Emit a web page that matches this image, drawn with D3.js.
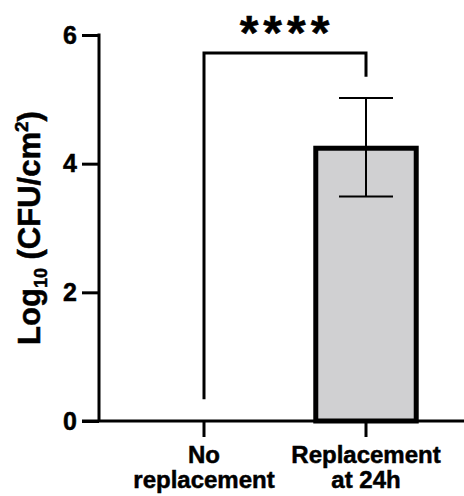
<!DOCTYPE html>
<html>
<head>
<meta charset="utf-8">
<script src="https://cdn.jsdelivr.net/npm/d3@7"></script>
<style>
  body { margin: 0; background: #fff; }
  svg { display: block; font-family: "Liberation Sans", Arial, sans-serif; font-weight: bold; }
  svg text { stroke: #000; stroke-width: 0.5px; }
</style>
</head>
<body>
<svg id="chart" width="464" height="496"></svg>
<script>
const categories = ["No replacement", "Replacement at 24h"];
const means = [0, 4.24];
const errLow = [null, 3.49];
const errHigh = [null, 5.02];
const yTicks = [0, 2, 4, 6];
// significance bracket: [left foot, top, right foot] in data units
const bracket = [0.34, 5.72, 5.35];
const sigLabel = "****";

const svg = d3.select("#chart");

const y = d3.scaleLinear().domain([0, 6]).range([421, 35]);
const x = d3.scaleBand().domain(categories).range([123, 447]);
const barW = x.bandwidth() * 0.62;
const cx = d => x(d) + x.bandwidth() / 2;

// bars
svg.selectAll("rect.bar")
    .data(categories.map((c, i) => ({ c, v: means[i] })).filter(d => d.v > 0))
    .enter()
    .append("rect")
    .attr("class", "bar")
    .attr("x", d => cx(d.c) - barW / 2)
    .attr("y", d => y(d.v))
    .attr("width", barW)
    .attr("height", d => y(0) - y(d.v))
    .attr("fill", "#d0d0d2")
    .attr("stroke", "#000")
    .attr("stroke-width", 5);

// error bars
const errs = categories.map((c, i) => ({ c, lo: errLow[i], hi: errHigh[i] })).filter(d => d.lo != null);
const eg = svg.selectAll("g.err").data(errs).enter().append("g")
    .attr("stroke", "#000").attr("stroke-width", 2);
eg.append("line")
    .attr("x1", d => cx(d.c)).attr("x2", d => cx(d.c))
    .attr("y1", d => y(d.lo)).attr("y2", d => y(d.hi));
eg.append("line")
    .attr("x1", d => cx(d.c) - 27).attr("x2", d => cx(d.c) + 27)
    .attr("y1", d => y(d.hi)).attr("y2", d => y(d.hi));
eg.append("line")
    .attr("x1", d => cx(d.c) - 27).attr("x2", d => cx(d.c) + 27)
    .attr("y1", d => y(d.lo)).attr("y2", d => y(d.lo));

// y axis
const yAxis = svg.append("g")
    .attr("transform", "translate(99,0)")
    .call(d3.axisLeft(y).tickValues(yTicks).tickSize(17).tickPadding(5).tickFormat(d3.format("d")));
yAxis.attr("font-family", null).attr("font-size", null);
yAxis.select(".domain").attr("d", `M0,${y(6) - 1.5}V${y(0)}`).attr("stroke-width", 3);
yAxis.selectAll(".tick line").attr("stroke-width", 3);
yAxis.selectAll(".tick text")
    .attr("font-size", 25)
    .attr("font-weight", "bold")
    .attr("fill", "#000");

// x axis
const xAxis = svg.append("g")
    .attr("transform", `translate(0,${y(0)})`)
    .call(d3.axisBottom(x).tickSize(16).tickFormat(""));
xAxis.select(".domain").attr("d", "M82,0H464").attr("stroke-width", 3);
xAxis.selectAll(".tick line").attr("stroke-width", 3);

// x labels (two lines)
const xLabelLines = [["No", "replacement"], ["Replacement", "at 24h"]];
const xl = svg.selectAll("text.xl").data(categories).enter().append("text")
    .attr("class", "xl")
    .attr("text-anchor", "middle")
    .attr("font-size", 24)
    .attr("fill", "#000");
xl.selectAll("tspan").data((d, i) => xLabelLines[i].map(t => ({ t, c: d })))
    .enter().append("tspan")
    .attr("x", d => cx(d.c))
    .attr("y", (d, j) => 463 + j * 25)
    .text(d => d.t);

// y label
const yl = svg.append("text")
    .attr("transform", "translate(40,228) rotate(-90)")
    .attr("text-anchor", "middle")
    .attr("font-size", 31)
    .attr("fill", "#000");
yl.append("tspan").text("Log");
yl.append("tspan").attr("font-size", 18).attr("dy", 7).text("10");
yl.append("tspan").attr("dy", -7).text(" (CFU/cm");
yl.append("tspan").attr("font-size", 19).attr("dy", -12).text("2");
yl.append("tspan").attr("dy", 12).text(")");

// significance bracket
const x1 = cx(categories[0]), x2 = cx(categories[1]);
svg.append("path")
    .attr("d", `M${x1},${y(bracket[0])}V${y(bracket[1])}H${x2}V${y(bracket[2])}`)
    .attr("fill", "none")
    .attr("stroke", "#000")
    .attr("stroke-width", 3);
svg.append("text")
    .attr("x", (x1 + x2) / 2 + 2)
    .attr("y", 49)
    .attr("text-anchor", "middle")
    .attr("font-size", 48)
    .attr("letter-spacing", 5)
    .attr("fill", "#000")
    .text(sigLabel);
</script>
</body>
</html>
